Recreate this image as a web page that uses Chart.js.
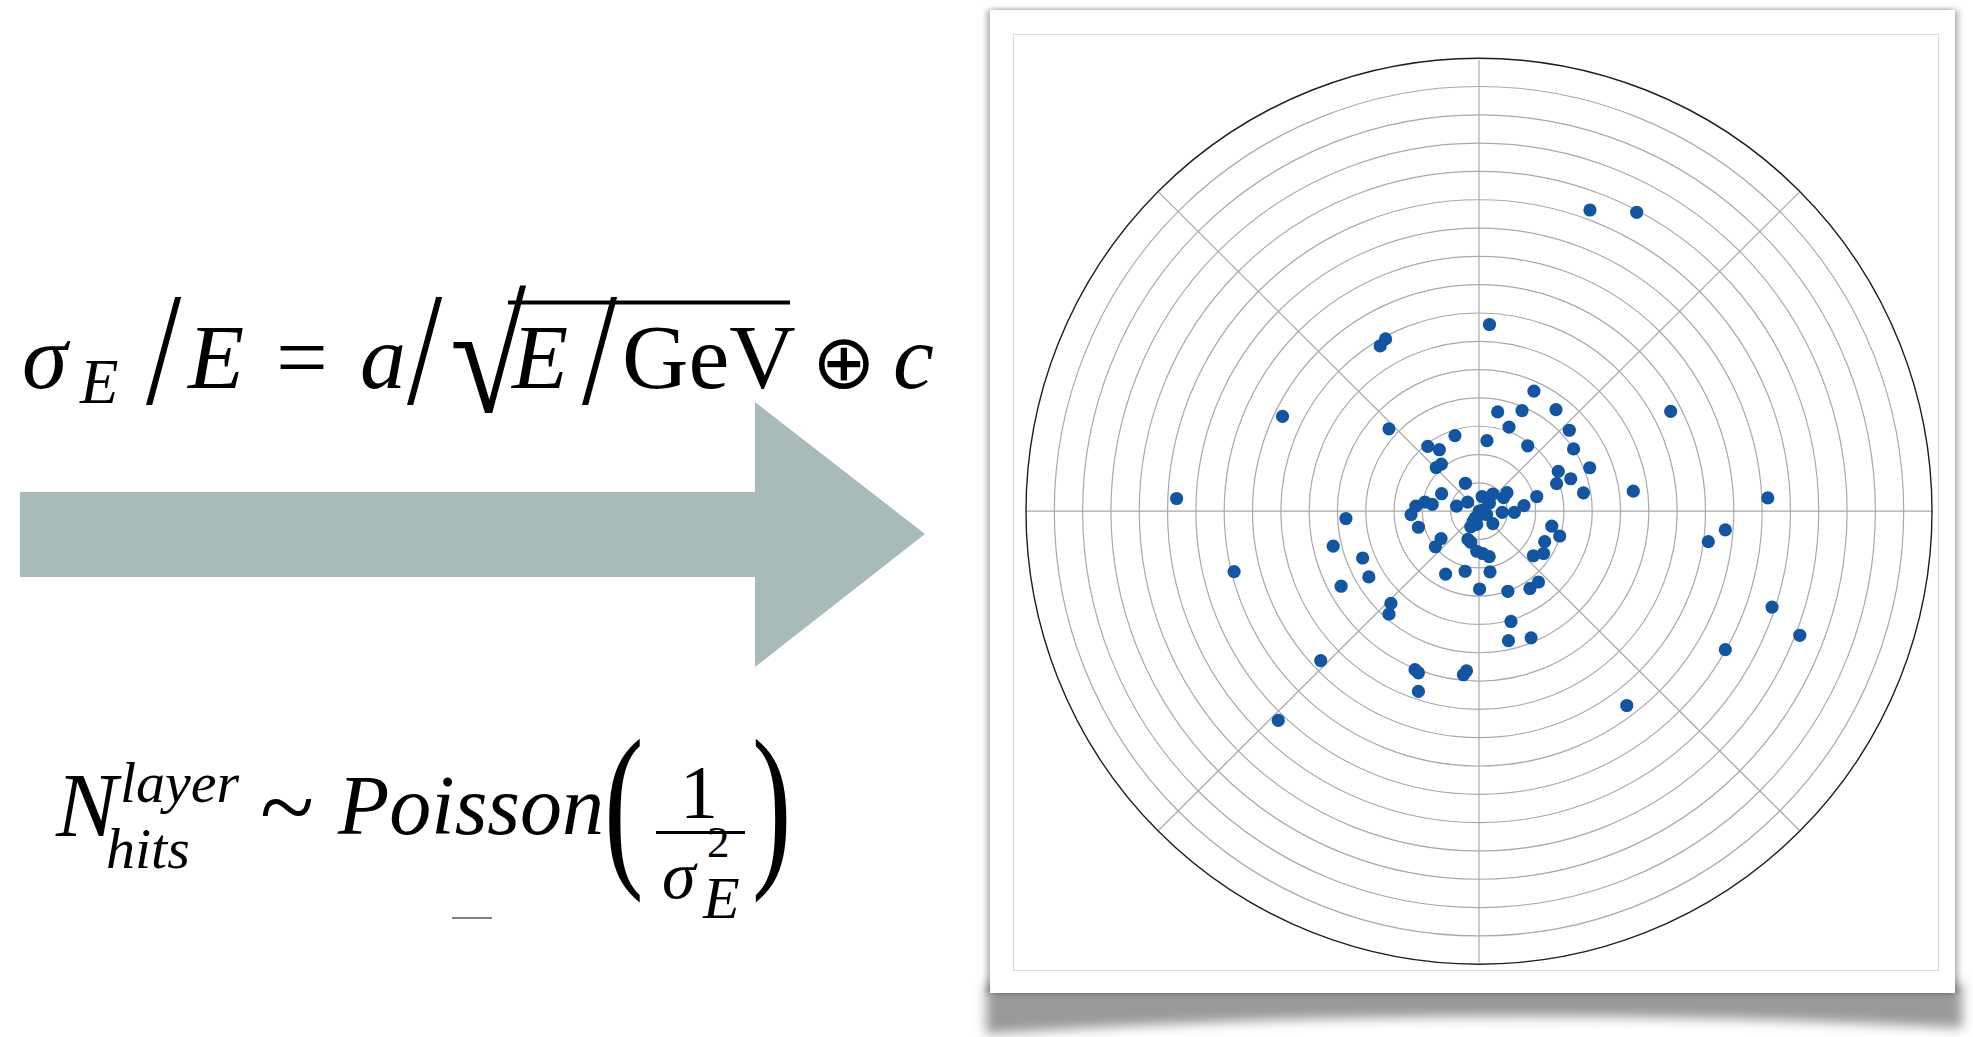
<!DOCTYPE html>
<html>
<head>
<meta charset="utf-8">
<title>Calorimeter hits</title>
<script src="https://cdn.jsdelivr.net/npm/chart.js@4.4.1/dist/chart.umd.min.js"></script>
<style>
  html, body { margin: 0; padding: 0; background: #fff; }
  body { width: 1973px; height: 1037px; overflow: hidden; position: relative; }
  #math, #shade { position: absolute; left: 0; top: 0; }
  .card {
    position: absolute; left: 990px; top: 10px; width: 965px; height: 983px;
    background: #fff;
    box-shadow: -4px 0 5px rgba(0,0,0,0.25), 4px 0 5px rgba(0,0,0,0.25), 0 -1px 3px rgba(0,0,0,0.06);
  }
  .frame {
    position: absolute; left: 1013px; top: 34px; width: 926px; height: 937px;
    border: 1px solid #dadada; box-sizing: border-box;
  }
  #wrap { position: absolute; left: 1014px; top: 35px; width: 925px; height: 934px; }
</style>
</head>
<body>
<!-- lifted-corner shadow under the card -->
<svg id="shade" width="1973" height="1037">
  <defs>
    <filter id="soft" x="-5%" y="-100%" width="110%" height="300%">
      <feGaussianBlur stdDeviation="6"/>
    </filter>
  </defs>
  <path d="M986 984 L1962 984 L1962 1028 Q1474 1002 986 1034 Z" fill="#000" fill-opacity="0.4" filter="url(#soft)"/>
</svg>

<!-- formulas and arrow -->
<svg id="math" width="985" height="1037">
  <polygon points="20,492 755,492 755,402 925,534 755,667 755,577 20,577" fill="#a7bbbb"/>
  <g font-family="'Liberation Serif','Times New Roman',serif" fill="#000">
    <text x="22" y="388" font-size="92" font-style="italic">σ</text>
    <text x="80" y="403" font-size="63" font-style="italic">E</text>
    <text transform="translate(146,403) scale(1.1,1.4)" font-size="115">/</text>
    <text x="188" y="388" font-size="92" font-style="italic">E</text>
    <text x="276" y="388" font-size="92">=</text>
    <text x="360" y="388" font-size="92" font-style="italic">a</text>
    <text transform="translate(407,403) scale(1.1,1.4)" font-size="115">/</text>
    <text transform="translate(450,412) scale(1,1.15)" font-size="139">√</text>
    <rect x="508" y="300.5" width="282" height="4"/>
    <text x="512" y="388" font-size="92" font-style="italic">E</text>
    <text transform="translate(582,403) scale(1.1,1.4)" font-size="115">/</text>
    <text x="622" y="388" font-size="92">GeV</text>
    <text x="812" y="388" font-size="76">⊕</text>
    <text x="893" y="388" font-size="92" font-style="italic">c</text>

    <text x="56" y="836" font-size="92" font-style="italic">N</text>
    <text x="120" y="802" font-size="58" font-style="italic">layer</text>
    <text x="106" y="868" font-size="58" font-style="italic">hits</text>
    <text x="260" y="840" font-size="100">~</text>
    <text x="338" y="834" font-size="84" font-style="italic">Poisson</text>
    <text transform="translate(604,864) scale(1.25,1.9)" font-size="95">(</text>
    <text x="680" y="818" font-size="76">1</text>
    <rect x="656" y="831" width="89" height="3"/>
    <text x="662" y="898" font-size="68" font-style="italic">σ</text>
    <text x="707" y="857" font-size="45">2</text>
    <text x="703" y="918" font-size="60" font-style="italic">E</text>
    <text transform="translate(752,864) scale(1.25,1.9)" font-size="95">)</text>
  </g>
  <line x1="452" y1="918" x2="492" y2="918" stroke="#555" stroke-width="1.5"/>
</svg>

<div class="card"></div>
<div class="frame"></div>
<div id="wrap"><canvas id="hits"></canvas></div>

<script>
// Hit positions in the transverse plane, in units of the ring spacing
const hitX = [
  1.94, 0.66, 1.52, 2.72, 6.77, 1.06, 3.19, -3.18, -0.85, 0.28,
  1.72, 3.34, -1.81, -1.40, 3.91, -1.51, -1.33, 2.80, 3.24, 2.74,
  3.69, 5.45, -0.48, -1.32, 2.04, 0.11, 0.49, 0.99, 0.87, 0.37,
  -0.40, -0.79, -1.65, -1.91, -2.23, -2.40, 1.59, 1.25, 0.82, 0.01,
  0.27, -0.13, -0.08, -0.29, 0.49, -2.14, -4.70, 2.57, 2.85, 2.32,
  -1.34, -1.54, -0.39, -0.29, -0.08, 0.13, 0.36, 1.92, 2.28, -5.15,
  -4.11, -3.89, -4.87, -1.18, -0.49, 0.39, 0.02, 1.02, 1.80, 2.10,
  1.13, 1.04, 1.84, -3.11, -3.18, -5.59, -2.26, -2.14, -2.14, -0.44,
  -0.55, 0.04, 0.18, -0.20, 3.92, 5.57, 0.37, -3.30, -3.49, -6.94,
  -10.68, -8.65, -7.09, 5.22, 10.20, 8.70, 8.10, 10.35, 11.33, 8.70
];
const hitY = [
  4.26, 3.52, 3.57, 3.60, 3.54, 2.98, 2.87, 2.92, 2.68, 2.50,
  2.32, 2.21, 2.30, 2.18, 1.54, 1.55, 1.67, 1.41, 1.15, 0.98,
  0.65, 0.71, 0.99, 0.62, 0.52, 0.52, 0.61, 0.66, 0.48, 0.29,
  0.32, 0.18, 0.24, 0.32, 0.18, -0.12, 0.20, -0.04, -0.04, 0.00,
  -0.12, -0.24, -0.47, -0.55, -0.44, -0.57, -0.26, -0.53, -0.88, -1.08,
  -0.97, -1.26, -1.00, -1.10, -1.42, -1.50, -1.61, -1.58, -1.50, -1.24,
  -1.66, -2.33, -2.66, -2.23, -2.13, -2.15, -2.76, -2.84, -2.74, -2.51,
  -3.91, -4.59, -4.49, -3.27, -3.65, -5.30, -5.62, -5.73, -6.39, -5.66,
  -5.80, -0.12, 0.06, -0.35, 10.68, 10.60, 6.62, 6.11, 5.86, 3.36,
  0.45, -2.14, -7.42, -6.89, 0.47, -0.66, -1.08, -3.40, -4.40, -4.91
];

// Concentric layer rings and the radial spokes of the grid
const ringRadii = [1, 2, 3, 4, 5, 6, 7, 8, 9, 10, 11, 12, 13, 14, 15, 16];
const spokeAngles = [0, 45, 90, 135, 180, 225, 270, 315];

const hitPoints = hitX.map((x, i) => ({ x: x, y: hitY[i] }));
const rMax = ringRadii[ringRadii.length - 1];

// Draws the polar grid from the chart's own x/y scales
const polarGrid = {
  id: 'polarGrid',
  beforeDatasetsDraw(chart) {
    const { ctx, scales: { x, y } } = chart;
    const cx = x.getPixelForValue(0);
    const cy = y.getPixelForValue(0);
    const unit = x.getPixelForValue(1) - cx;
    ctx.save();
    ctx.strokeStyle = '#a9a9a9';
    ctx.lineWidth = 1.2;
    ringRadii.slice(0, -1).forEach(r => {
      ctx.beginPath();
      ctx.arc(cx, cy, r * unit, 0, Math.PI * 2);
      ctx.stroke();
    });
    spokeAngles.forEach(a => {
      const t = a * Math.PI / 180;
      ctx.beginPath();
      ctx.moveTo(cx, cy);
      ctx.lineTo(x.getPixelForValue(rMax * Math.cos(t)), y.getPixelForValue(rMax * Math.sin(t)));
      ctx.stroke();
    });
    ctx.strokeStyle = '#1e1e1e';
    ctx.lineWidth = 1.4;
    ctx.beginPath();
    ctx.arc(cx, cy, rMax * unit, 0, Math.PI * 2);
    ctx.stroke();
    ctx.restore();
  }
};

new Chart(document.getElementById('hits'), {
  type: 'scatter',
  data: {
    datasets: [{
      label: 'hits',
      data: hitPoints,
      backgroundColor: '#1256a3',
      borderWidth: 0,
      pointRadius: 6.6,
      pointHoverRadius: 6.6
    }]
  },
  options: {
    responsive: true,
    maintainAspectRatio: false,
    animation: false,
    events: [],
    layout: { padding: { left: 12, right: 7, top: 25, bottom: 3 } },
    scales: {
      x: { type: 'linear', min: -rMax, max: rMax, display: false },
      y: { type: 'linear', min: -rMax, max: rMax, display: false }
    },
    plugins: { legend: { display: false }, tooltip: { enabled: false } }
  },
  plugins: [polarGrid]
});
</script>
</body>
</html>
